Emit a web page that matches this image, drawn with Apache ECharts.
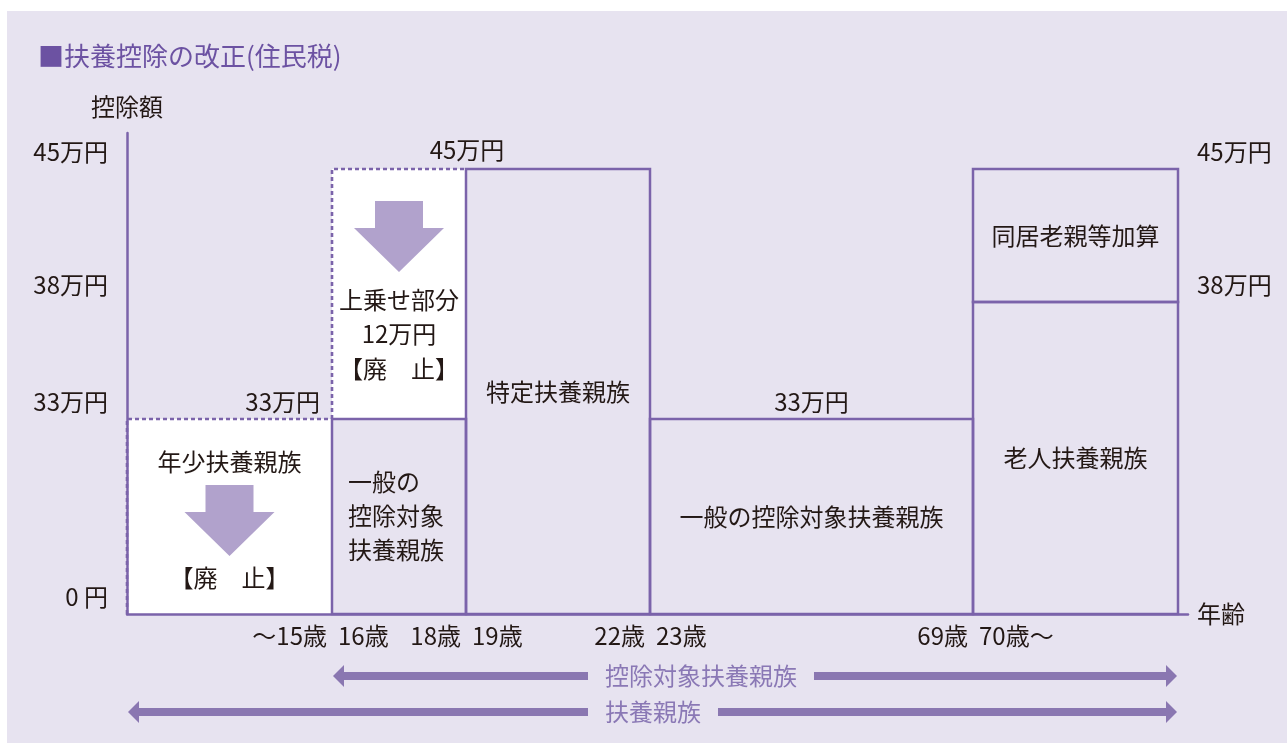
<!DOCTYPE html>
<html>
<head>
<meta charset="utf-8">
<script src="https://cdn.jsdelivr.net/npm/echarts@6/dist/echarts.min.js"></script>
<style>
  html, body { margin: 0; padding: 0; background: #fff; }
  #panel { position: absolute; left: 7px; top: 11px; width: 1280px; height: 732px; background: #e7e3f0; }
  #main { position: absolute; left: 0; top: 0; width: 1287px; height: 743px; }
</style>
</head>
<body>
<div id="panel"></div>
<div id="main"></div>
<script>
// 年齢区分と控除額（万円）
const bandStartLabels = ['', '16歳', '19歳', '23歳', '70歳～']
const bandEndLabels = ['～15歳', '18歳', '22歳', '69歳', '']
const baseDeduction = [33, 33, 45, 33, 38]
const extraDeduction = [0, 12, 0, 0, 7] // 上乗せ部分 / 同居老親等加算
const baseAbolished = [true, false, false, false, false]
const extraAbolished = [false, true, false, false, false]
const baseNames = ['年少扶養親族', '一般の\n控除対象\n扶養親族', '特定扶養親族', '一般の控除対象扶養親族', '老人扶養親族']
const extraNames = ['', '上乗せ部分', '', '', '同居老親等加算']
const abolishNote = '【廃　止】'
const yLevels = [0, 33, 38, 45]
const yLevelLabels = ['0 円', '33万円', '38万円', '45万円']
const rightLevels = [38, 45]
const rangeNames = ['控除対象扶養親族', '扶養親族']
const rangeFrom = [1, 0] // 何番目の区分から矢印が始まるか

// 模式図なので縮尺は等間隔ではない（以下はレイアウト用）
const bandWidths = [205, 134, 184, 323, 205]
const levelPos = [0, 195, 312, 445]
const topLabelAnchor = ['right', 'edge', '', 'center', '']
const X_MAX = 1061
const Y_MAX = 481
const RANGE_LABEL_X = 478

const FONT = '"Noto Sans CJK JP", "Noto Sans CJK SC", sans-serif'
const FS = 24
const TEXT = '#231815'
const LINE = '#7b63aa'
const ARROW_FILL = '#b1a2cc'
const RANGE = '#8a77b1'
const RANGE_TEXT = '#8a78b5'
const TITLE = '#6c52a2'

const bandEdges = [0]
bandWidths.forEach(w => bandEdges.push(bandEdges[bandEdges.length - 1] + w))

// 控除額 -> 模式図上の高さ
function toPos (v) {
  for (let k = 1; k < yLevels.length; k++) {
    if (v <= yLevels[k]) {
      let t = (v - yLevels[k - 1]) / (yLevels[k] - yLevels[k - 1])
      return levelPos[k - 1] + t * (levelPos[k] - levelPos[k - 1])
    }
  }
  return levelPos[levelPos.length - 1]
}

const measureCtx = document.createElement('canvas').getContext('2d')
function textWidth (s) {
  measureCtx.font = FS + 'px ' + FONT
  return measureCtx.measureText(s).width
}

function txt (text, x, y, align, extra) {
  return {
    type: 'text',
    z2: 6,
    style: Object.assign({
      text: text, x: x, y: y,
      align: align || 'center', verticalAlign: 'middle',
      fill: TEXT, fontSize: FS, fontFamily: FONT
    }, extra || {})
  }
}

function downArrow (cx, t) {
  return {
    type: 'polygon',
    z2: 3,
    shape: { points: [[cx - 24, t], [cx + 24, t], [cx + 24, t + 27], [cx + 45, t + 27], [cx, t + 71], [cx - 45, t + 27], [cx - 24, t + 27]] },
    style: { fill: ARROW_FILL }
  }
}

function box (kids, xl, xr, yt, yb, abolished) {
  if (abolished) {
    kids.push({ type: 'rect', z2: 0, shape: { x: xl, y: yt, width: xr - xl, height: yb - yt }, style: { fill: '#fff' } })
    kids.push({
      type: 'polyline', z2: 1,
      shape: { points: [[xl, yb], [xl, yt], [xr, yt]] },
      style: { fill: null, stroke: LINE, lineWidth: 2.6, lineDash: [4, 3] }
    })
  } else {
    kids.push({
      type: 'rect', z2: 2,
      shape: { x: xl, y: yt, width: xr - xl, height: yb - yt },
      style: { fill: null, stroke: LINE, lineWidth: 2.5 }
    })
  }
}

function renderBand (params, api) {
  let i = api.value(0)
  let xl = api.coord([bandEdges[i], 0])[0]
  let xr = api.coord([bandEdges[i + 1], 0])[0]
  let yb = api.coord([0, 0])[1]
  let total = baseDeduction[i] + extraDeduction[i]
  let yBase = api.coord([0, toPos(baseDeduction[i])])[1]
  let yTop = api.coord([0, toPos(total)])[1]
  let cx = (xl + xr) / 2
  let kids = []

  box(kids, xl, xr, yBase, yb, baseAbolished[i])
  if (extraDeduction[i] > 0) box(kids, xl, xr, yTop, yBase, extraAbolished[i])

  // 下段の文字
  if (baseAbolished[i]) {
    kids.push(txt(baseNames[i], cx, yBase + 43))
    kids.push(downArrow(cx, yBase + 66))
    kids.push(txt(abolishNote, cx, yb - 36))
  } else if (baseNames[i].indexOf('\n') >= 0) {
    kids.push(txt(baseNames[i], xl + 16, (yBase + yb) / 2 - 1, 'left', { lineHeight: 34 }))
  } else {
    kids.push(txt(baseNames[i], cx, (yBase + yb) / 2))
  }

  // 上段の文字
  if (extraDeduction[i] > 0) {
    if (extraAbolished[i]) {
      kids.push(downArrow(cx, yTop + 32))
      kids.push(txt(extraNames[i] + '\n' + extraDeduction[i] + '万円\n' + abolishNote, cx, yTop + 165, 'center', { lineHeight: 34.5 }))
    } else {
      kids.push(txt(extraNames[i], cx, (yTop + yBase) / 2))
    }
  }

  // 上端の金額
  let a = topLabelAnchor[i]
  if (a === 'right') kids.push(txt(total + '万円', xr - 12, yTop - 17, 'right'))
  if (a === 'edge') kids.push(txt(total + '万円', xr + 1, yTop - 19))
  if (a === 'center') kids.push(txt(total + '万円', cx, yTop - 17))

  return { type: 'group', children: kids }
}

function renderRange (params, api) {
  let k = api.value(0)
  let x0 = api.coord([bandEdges[rangeFrom[k]], 0])[0] + 1
  let x1 = api.coord([bandEdges[bandEdges.length - 1], 0])[0] - 1
  let y = api.coord([0, 0])[1] + 62 + 36 * k
  let tx = api.coord([RANGE_LABEL_X, 0])[0]
  let tw = textWidth(rangeNames[k])
  return {
    type: 'group',
    children: [
      { type: 'polygon', shape: { points: [[x0, y], [x0 + 11, y - 11], [x0 + 11, y + 11]] }, style: { fill: RANGE } },
      { type: 'rect', shape: { x: x0 + 10, y: y - 4, width: tx - 17 - x0 - 10, height: 8 }, style: { fill: RANGE } },
      txt(rangeNames[k], tx, y, 'left', { fill: RANGE_TEXT }),
      { type: 'rect', shape: { x: tx + tw + 17, y: y - 4, width: x1 - 10 - tx - tw - 17, height: 8 }, style: { fill: RANGE } },
      { type: 'polygon', shape: { points: [[x1, y], [x1 - 11, y - 11], [x1 - 11, y + 11]] }, style: { fill: RANGE } }
    ]
  }
}

let myChart = echarts.init(document.getElementById('main'))
let labelStyle = { color: TEXT, fontSize: FS, fontFamily: FONT }
let options = {
  animation: false,
  backgroundColor: 'transparent',
  title: {
    text: '■扶養控除の改正(住民税)',
    left: 38,
    top: 43,
    padding: 0,
    textStyle: { color: TITLE, fontSize: 26, fontWeight: 'normal', fontFamily: FONT }
  },
  grid: { left: 127, right: 99, top: 133, bottom: 129, outerBoundsMode: 'none' },
  xAxis: [
    {
      type: 'value', min: 0, max: X_MAX, position: 'bottom', z: 10,
      name: '年齢', nameGap: 9,
      nameTextStyle: Object.assign({ padding: [6, 0, 0, 0] }, labelStyle),
      axisLine: { show: true, onZero: false, lineStyle: { color: LINE, width: 2.5 } },
      axisTick: { show: false },
      splitLine: { show: false },
      axisLabel: Object.assign({
        customValues: bandEdges.slice(1, -1),
        formatter: v => bandEndLabels[bandEdges.indexOf(v) - 1],
        align: 'right', padding: [0, 5, 0, 0], margin: 10
      }, labelStyle)
    },
    {
      type: 'value', min: 0, max: X_MAX, position: 'bottom', z: 10,
      axisLine: { show: false },
      axisTick: { show: false },
      splitLine: { show: false },
      axisLabel: Object.assign({
        customValues: bandEdges.slice(1, -1),
        formatter: v => bandStartLabels[bandEdges.indexOf(v)],
        align: 'left', padding: [0, 0, 0, 6], margin: 10
      }, labelStyle)
    }
  ],
  yAxis: [
    {
      type: 'value', min: 0, max: Y_MAX, position: 'left', z: 10,
      name: '控除額', nameGap: 14, nameTextStyle: labelStyle,
      axisLine: { show: true, onZero: false, lineStyle: { color: LINE, width: 2.5 } },
      axisTick: { show: false },
      splitLine: { show: false },
      axisLabel: Object.assign({
        customValues: levelPos,
        formatter: v => yLevelLabels[levelPos.indexOf(v)],
        verticalAlign: 'bottom', padding: [0, 0, 5, 0], margin: 19
      }, labelStyle)
    },
    {
      type: 'value', min: 0, max: Y_MAX, position: 'right', z: 10,
      axisLine: { show: false },
      axisTick: { show: false },
      splitLine: { show: false },
      axisLabel: Object.assign({
        customValues: rightLevels.map(v => toPos(v)),
        formatter: v => yLevelLabels[levelPos.indexOf(v)],
        verticalAlign: 'bottom', padding: [0, 0, 5, 0], margin: 9
      }, labelStyle)
    }
  ],
  series: [
    {
      type: 'custom', name: 'bands', xAxisIndex: 0, yAxisIndex: 0, z: 2,
      renderItem: renderBand,
      data: baseDeduction.map((v, i) => [i])
    },
    {
      type: 'custom', name: 'ranges', xAxisIndex: 0, yAxisIndex: 0, z: 2, clip: false,
      renderItem: renderRange,
      data: rangeNames.map((n, k) => [k])
    }
  ]
}
myChart.setOption(options)
</script>
</body>
</html>
